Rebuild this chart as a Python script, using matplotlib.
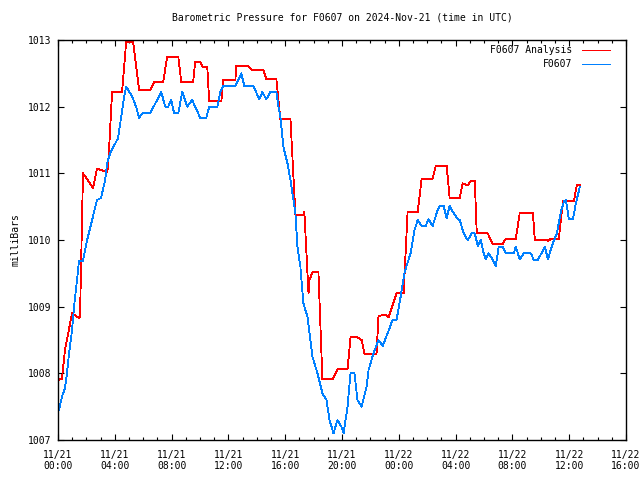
import matplotlib
matplotlib.use("Agg")
from matplotlib import pyplot as plt
from matplotlib.ticker import FixedLocator, FuncFormatter

# hours since 2024-11-21 00:00 UTC
red_t = [0.0, 0.28, 0.49, 0.99, 1.48, 1.55, 1.76, 2.47, 2.75, 3.46, 3.53, 3.81, 4.51, 4.80, 5.29,
         5.71, 6.49, 6.77, 7.41, 7.69, 8.47, 8.68, 9.52, 9.66, 10.02, 10.16, 10.51, 10.65, 11.50,
         11.64, 12.49, 12.56, 13.40, 13.69, 14.46, 14.67, 15.38, 15.66, 16.37, 16.72, 17.28, 17.35,
         17.64, 17.71, 17.92, 18.34, 18.62, 19.33, 19.68, 20.39, 20.60, 21.09, 21.38, 21.59, 22.43,
         22.57, 23.07, 23.28, 23.84, 24.34, 24.62, 25.33, 25.61, 26.38, 26.60, 27.37, 27.58, 28.29,
         28.50, 28.85, 29.07, 29.35, 29.49, 30.26, 30.62, 31.32, 31.53, 32.24, 32.52, 33.44, 33.58,
         34.43, 34.50, 34.71, 35.27, 35.56, 36.33, 36.54, 36.75]
red_p = [1007.90, 1007.92, 1008.35, 1008.90, 1008.83, 1008.85, 1011.00, 1010.78, 1011.07, 1011.02,
         1011.10, 1012.22, 1012.22, 1012.97, 1012.97, 1012.25, 1012.25, 1012.37, 1012.37, 1012.75,
         1012.75, 1012.37, 1012.37, 1012.67, 1012.67, 1012.60, 1012.60, 1012.08, 1012.08, 1012.40,
         1012.40, 1012.61, 1012.61, 1012.55, 1012.55, 1012.41, 1012.41, 1011.81, 1011.81, 1010.38,
         1010.38, 1010.42, 1009.20, 1009.40, 1009.52, 1009.52, 1007.91, 1007.91, 1008.06, 1008.06,
         1008.54, 1008.54, 1008.50, 1008.29, 1008.29, 1008.86, 1008.88, 1008.84, 1009.20, 1009.20,
         1010.42, 1010.42, 1010.92, 1010.92, 1011.11, 1011.11, 1010.63, 1010.63, 1010.85, 1010.82,
         1010.89, 1010.89, 1010.10, 1010.10, 1009.94, 1009.94, 1010.02, 1010.02, 1010.41, 1010.41,
         1010.00, 1010.00, 1009.98, 1010.02, 1010.02, 1010.58, 1010.58, 1010.83, 1010.83]

blue_t = [0.07, 0.28, 0.49, 0.63, 0.78, 0.99, 1.13, 1.34, 1.48, 1.76, 2.05, 2.40, 2.75, 3.03, 3.32,
          3.46, 3.67, 4.16, 4.23, 4.44, 4.66, 4.80, 5.22, 5.50, 5.71, 5.93, 6.49, 6.98, 7.27, 7.55,
          7.76, 7.97, 8.18, 8.47, 8.75, 9.10, 9.45, 10.02, 10.44, 10.65, 11.22, 11.43, 11.64, 12.49,
          12.91, 13.12, 13.76, 14.18, 14.39, 14.67, 14.96, 15.38, 15.52, 15.66, 15.87, 16.16, 16.37,
          16.58, 16.72, 16.86, 17.07, 17.28, 17.57, 17.92, 18.27, 18.62, 18.91, 19.12, 19.40, 19.68,
          19.96, 20.11, 20.39, 20.60, 20.88, 21.09, 21.38, 21.73, 21.87, 22.22, 22.57, 22.86, 23.21,
          23.56, 23.84, 24.13, 24.41, 24.83, 25.11, 25.33, 25.61, 25.89, 26.10, 26.38, 26.74, 26.88,
          27.16, 27.37, 27.58, 27.87, 28.15, 28.29, 28.57, 28.85, 29.14, 29.35, 29.56, 29.77, 29.98,
          30.12, 30.33, 30.62, 30.83, 31.04, 31.32, 31.53, 32.10, 32.24, 32.52, 32.80, 33.30, 33.51,
          33.79, 34.29, 34.50, 34.78, 35.13, 35.41, 35.63, 35.77, 35.98, 36.26, 36.47, 36.75]
blue_p = [1007.45, 1007.65, 1007.78, 1008.00, 1008.30, 1008.65, 1009.00, 1009.40, 1009.69, 1009.69,
          1010.00, 1010.30, 1010.60, 1010.63, 1010.90, 1011.15, 1011.30, 1011.50, 1011.53, 1011.83,
          1012.15, 1012.30, 1012.15, 1012.00, 1011.83, 1011.90, 1011.90, 1012.10, 1012.22, 1012.00,
          1012.00, 1012.10, 1011.90, 1011.90, 1012.22, 1012.00, 1012.10, 1011.83, 1011.83, 1012.00,
          1012.00, 1012.22, 1012.31, 1012.31, 1012.50, 1012.31, 1012.31, 1012.11, 1012.22, 1012.11,
          1012.22, 1012.22, 1012.00, 1011.85, 1011.40, 1011.15, 1010.90, 1010.60, 1010.40, 1009.90,
          1009.60, 1009.05, 1008.85, 1008.25, 1008.00, 1007.70, 1007.60, 1007.30, 1007.10, 1007.30,
          1007.20, 1007.10, 1007.50, 1008.00, 1008.00, 1007.60, 1007.50, 1007.80, 1008.05, 1008.30,
          1008.50, 1008.41, 1008.60, 1008.80, 1008.80, 1009.15, 1009.52, 1009.80, 1010.15, 1010.30,
          1010.21, 1010.21, 1010.31, 1010.21, 1010.45, 1010.51, 1010.51, 1010.33, 1010.51, 1010.40,
          1010.31, 1010.30, 1010.10, 1010.00, 1010.10, 1010.10, 1009.91, 1010.00, 1009.80, 1009.71,
          1009.80, 1009.70, 1009.61, 1009.90, 1009.90, 1009.80, 1009.80, 1009.90, 1009.71, 1009.80,
          1009.80, 1009.70, 1009.70, 1009.90, 1009.71, 1009.91, 1010.10, 1010.42, 1010.58, 1010.60,
          1010.31, 1010.31, 1010.55, 1010.80]

major_hours = list(range(0, 41, 4))
minor_hours = list(range(0, 41))

plt.rcParams['font.family'] = 'DejaVu Sans Mono'
plt.rcParams['font.size'] = 7

fig = plt.figure(figsize=(6.4, 4.8), dpi=100)
ax = fig.add_axes([58 / 640, 40 / 480, 568 / 640, 400 / 480])

ax.plot(red_t, red_p, color='#ff0000', lw=0.6, antialiased=False)
ax.plot(blue_t, blue_p, color='#0080ff', lw=0.6, antialiased=False)

ax.set_xlim(0, 40)
ax.set_ylim(1007, 1013)


def fmt_time(h, pos):
    day = 21 + int(h) // 24
    return "11/%02d\n%02d:00" % (day, int(h) % 24)


ax.xaxis.set_major_locator(FixedLocator(major_hours))
ax.xaxis.set_minor_locator(FixedLocator(minor_hours))
ax.xaxis.set_major_formatter(FuncFormatter(fmt_time))
ax.set_yticks(range(1007, 1014))
ax.tick_params(which='both', direction='in', top=True, right=True, width=0.8)
ax.tick_params(which='major', length=4.5)
ax.tick_params(axis='x', which='major', pad=7)
ax.tick_params(axis='y', which='major', pad=5)
ax.tick_params(which='minor', length=2.2)
for s in ax.spines.values():
    s.set_linewidth(1.0)

ax.set_title("Barometric Pressure for F0607 on 2024-Nov-21 (time in UTC)", fontsize=7, pad=14)
ax.set_ylabel("milliBars", labelpad=5)

# gnuplot-style key: right aligned text, sample line on its right
for i, (name, c) in enumerate([("F0607 Analysis", '#ff0000'), ("F0607", '#0080ff')]):
    y = 0.975 - i * 0.035
    ax.text(0.905, y, name, transform=ax.transAxes, ha='right', va='center')
    ax.plot([0.922, 0.972], [y, y], transform=ax.transAxes, color=c, lw=0.6, antialiased=False)

plt.savefig("out.png", dpi=100)
